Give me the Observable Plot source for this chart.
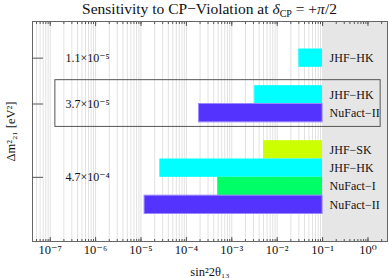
<!DOCTYPE html>
<html><head><meta charset="utf-8">
<script src="https://cdn.jsdelivr.net/npm/d3@7"></script>
<script src="https://cdn.jsdelivr.net/npm/@observablehq/plot@0.6"></script>
<style>
body{margin:0;background:#fff;font-family:"Liberation Serif","DejaVu Serif",serif;}
#title{height:20px;width:389px;text-align:center;font-size:15.5px;line-height:17px;padding-left:30px;box-sizing:border-box;white-space:nowrap;color:#111}
#title sub{font-size:10px;vertical-align:-3px;line-height:0}
svg{display:block}
</style></head><body>
<div id="title">Sensitivity to CP−Violation at <i>δ</i><sub>CP</sub> = +<i>π</i>/2</div>
<div id="chart"></div>
<script>
// data
const experiments = ["JHF−HK", "JHF−HK", "NuFact−II", "JHF−SK", "JHF−HK", "NuFact−I", "NuFact−II"];
const rows = [2, 4, 5, 7, 8, 9, 10];
const lower = [0.03, 0.0032, 1.9e-4, 0.005, 2.6e-5, 4.9e-4, 1.2e-5];
const upper = [0.1, 0.1, 0.1, 0.1, 0.1, 0.1, 0.1];
const colors = ["#00ffff", "#00ffff", "#5533ff", "#ccff00", "#00ffff", "#00ff66", "#5533ff"];
const dmLabels = ["1.1×10⁻⁵", "3.7×10⁻⁵", "4.7×10⁻⁴"];
const dmRows = [2, 4.5, 8.5];
const xTickValues = [1e-7, 1e-6, 1e-5, 1e-4, 1e-3, 1e-2, 1e-1, 1e0];
const xTickLabels = ["10⁻⁷", "10⁻⁶", "10⁻⁵", "10⁻⁴", "10⁻³", "10⁻²", "10⁻¹", "10⁰"];
const chooz = 0.1;           // excluded region starts here
const boxGroup = {x1: 1.3e-7, x2: 1.9, y1: 3.2, y2: 5.75};

const xDomain = [Math.pow(10, -7.39), Math.pow(10, 0.43)];
const yDomain = [0, 12];

const bars = experiments.map((name, i) => ({name, row: rows[i], lo: lower[i], hi: upper[i], color: colors[i]}));
const minor = [];
for (let k = -8; k <= 0; k++) for (let m = 1; m <= 9; m++) {
  const v = m * Math.pow(10, k);
  if (v >= xDomain[0] && v <= xDomain[1]) minor.push(v);
}
const fmt = d => xTickLabels[xTickValues.indexOf(d)] ?? "";

const chart = Plot.plot({
  width: 389,
  height: 258,
  marginTop: 1,
  marginBottom: 37,
  marginLeft: 32,
  marginRight: 2,
  style: {fontFamily: "'Liberation Serif','DejaVu Serif',serif", fontSize: "12px", color: "#111", background: "#fff"},
  x: {type: "log", domain: xDomain},
  y: {type: "linear", domain: yDomain, reverse: true},
  marks: [
    Plot.gridX(minor, {stroke: "#e2e2e2", strokeOpacity: 1, strokeWidth: 1}),
    Plot.rect([{x1: chooz, x2: xDomain[1]}], {x1: "x1", x2: "x2", y1: yDomain[0], y2: yDomain[1], fill: "#e6e6e6"}),
    Plot.rect(bars, {x1: "lo", x2: "hi", y1: d => d.row - 0.5, y2: d => d.row + 0.5, fill: "color",
      stroke: d => d.color === "#5533ff" ? "#9a88ff" : "none", strokeWidth: 1, inset: 0}),
    Plot.rect([boxGroup], {x1: "x1", x2: "x2", y1: "y1", y2: "y2", fill: "none", stroke: "#555", strokeWidth: 1}),
    Plot.text(bars, {x: "hi", y: "row", text: "name", textAnchor: "start", dx: 7, fontSize: 12, fill: "#111"}),
    Plot.frame({stroke: "#666"}),
    Plot.axisX(minor, {anchor: "bottom", tickSize: -2, tickFormat: () => "", label: null, stroke: "#555"}),
    Plot.axisX(minor, {anchor: "top", tickSize: -2, tickFormat: () => "", label: null, stroke: "#555"}),
    Plot.axisX(xTickValues, {anchor: "bottom", tickSize: -4, tickPadding: 8, tickFormat: fmt, fontSize: 12.5,
      label: "sin²2θ₁₃", labelAnchor: "center", labelOffset: 34, labelArrow: "none", stroke: "#555"}),
    Plot.axisX(xTickValues, {anchor: "top", tickSize: -4, tickFormat: () => "", label: null, stroke: "#555"}),
    Plot.axisY(dmRows, {anchor: "left", tickSize: -11, tickFormat: () => "", label: "Δm²₂₁ [eV²]", fontSize: 12.5,
      labelAnchor: "center", labelOffset: 26, labelArrow: "none", stroke: "#555"}),
    Plot.axisY(dmRows, {anchor: "left", tickSize: 0, tickPadding: -33, textAnchor: "start",
      tickFormat: d => dmLabels[dmRows.indexOf(d)], fontSize: 12, label: null})
  ]
});
document.getElementById("chart").appendChild(chart);
</script>
</body></html>
